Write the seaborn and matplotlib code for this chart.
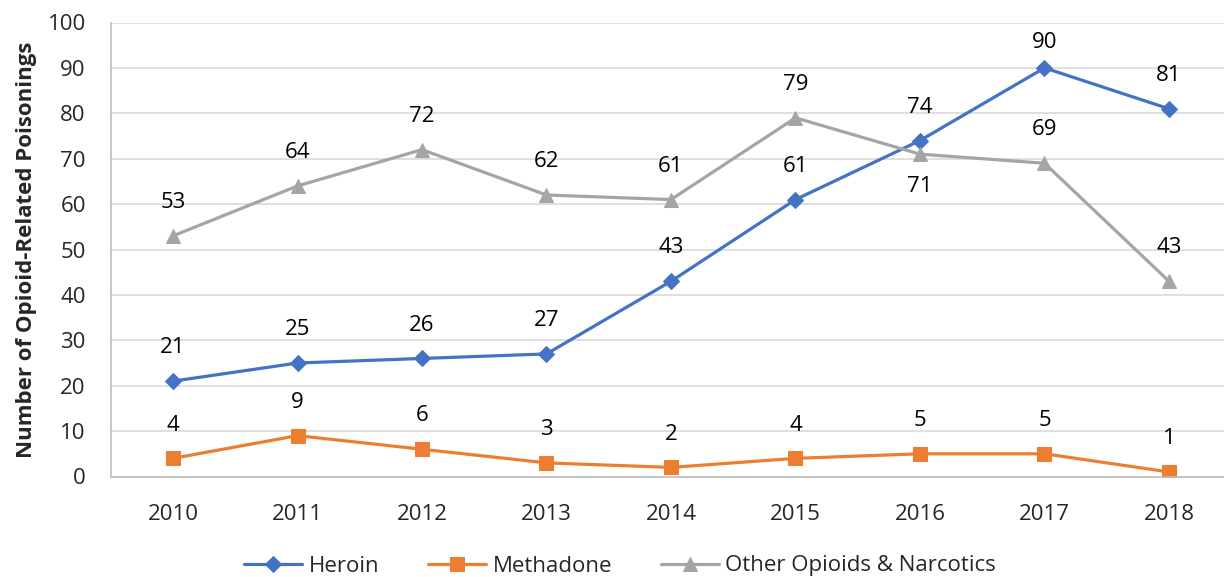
import matplotlib
matplotlib.use("Agg")
import matplotlib.pyplot as plt
import seaborn as sns
import pandas as pd

years = ["2010", "2011", "2012", "2013", "2014", "2015", "2016", "2017", "2018"]
heroin = [21, 25, 26, 27, 43, 61, 74, 90, 81]
methadone = [4, 9, 6, 3, 2, 4, 5, 5, 1]
other = [53, 64, 72, 62, 61, 79, 71, 69, 43]
series_names = ["Heroin", "Methadone", "Other Opioids & Narcotics"]
y_ticks = [0, 10, 20, 30, 40, 50, 60, 70, 80, 90, 100]

sns.set_theme(style="white")
plt.rcParams['font.family'] = ['Open Sans', 'DejaVu Sans']

colors = {"Heroin": "#4472C4", "Methadone": "#ED7D31", "Other Opioids & Narcotics": "#A5A5A5"}
markers = {"Heroin": "D", "Methadone": "s", "Other Opioids & Narcotics": "^"}
msizes = {"Heroin": 8.5, "Methadone": 9.5, "Other Opioids & Narcotics": 10}

rows = []
for name, vals in zip(series_names, [heroin, methadone, other]):
    for i, (yr, v) in enumerate(zip(years, vals)):
        rows.append({"idx": i, "year": yr, "value": v, "series": name})
df = pd.DataFrame(rows)

fig = plt.figure(figsize=(12.24, 5.77), dpi=100)
W, H = 1224, 577
ax = fig.add_axes([110.75 / W, 1 - 476.5 / H, 1120.5 / W, (476.5 - 22.5) / H])

for name in series_names:
    sub = df[df.series == name]
    sns.lineplot(data=sub, x="idx", y="value", ax=ax, color=colors[name],
                 marker=markers[name], markersize=msizes[name], markeredgecolor=colors[name],
                 linewidth=2.3, label=name, legend=False)

# data labels
below = {("Other Opioids & Narcotics", 6)}
for name, vals in zip(series_names, [heroin, methadone, other]):
    for i, v in enumerate(vals):
        if (name, i) in below:
            off = -23
        elif v >= 88:
            off = 18
        else:
            off = 24
        ax.annotate(str(v), (i, v), xytext=(0, off), textcoords="offset points",
                    ha="center", va="center", fontsize=16, color="black")

ax.set_xlim(-0.5, len(years) - 0.5)
ax.set_ylim(0, 100)
ax.set_yticks(y_ticks)
ax.set_yticklabels([str(t) for t in y_ticks], fontsize=16)
ax.set_xticks(range(len(years)))
ax.set_xticklabels(years, fontsize=16)
ax.tick_params(axis="x", length=0, pad=20)
ax.tick_params(axis="y", length=7, color="#BFBFBF", width=1, pad=11, direction="out")
# category separator ticks
ax.set_xticks([i - 0.5 for i in range(len(years) + 1)], minor=True)
ax.tick_params(axis="x", which="minor", length=7, color="#BFBFBF", width=1, direction="out")
ax.yaxis.grid(True, color="#D9D9D9", linewidth=1.2)
ax.set_axisbelow(True)
for s in ["top", "right"]:
    ax.spines[s].set_visible(False)
for s in ["left", "bottom"]:
    ax.spines[s].set_color("#BFBFBF")
    ax.spines[s].set_linewidth(1.2)
ax.set_xlabel("")
ax.set_ylabel("Number of Opioid-Related Poisonings", fontsize=16, fontweight="bold")
ax.yaxis.set_label_coords(-(110.75 - 37) / 1120.5, 0.5)

handles, labels = ax.get_legend_handles_labels()
fig.legend(handles, labels, loc="center", bbox_to_anchor=(620 / W, 1 - 566 / H), ncol=3,
           frameon=False, fontsize=16, handlelength=2.6, columnspacing=2.2, handletextpad=0.3)

fig.savefig("out.png", dpi=100)
